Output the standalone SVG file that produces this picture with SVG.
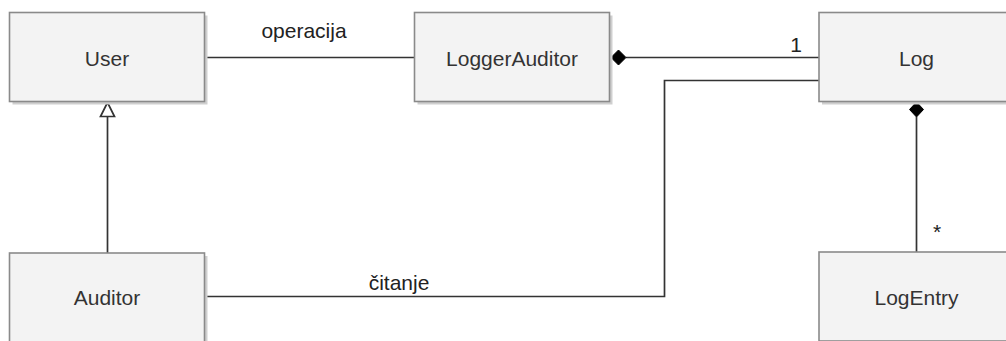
<svg xmlns="http://www.w3.org/2000/svg" width="1006" height="341" viewBox="0 0 1006 341">
<style>
.shadow{fill:#cfcfcf;stroke:none}
.box{fill:#f3f3f3;stroke:#8a8a8a;stroke-width:1.6}
.lbl{font-family:"Liberation Sans",Arial,sans-serif;font-size:21px;fill:#333333;text-anchor:middle}
.elbl{font-family:"Liberation Sans",Arial,sans-serif;font-size:21px;fill:#222222}
.conn{fill:none;stroke:#333333;stroke-width:1.7}
</style>
<rect width="1006" height="341" fill="#ffffff"/>
<g id="connectors">
  <path class="conn" d="M205.5,57.5 H414"/>
  <path class="conn" d="M626,57.5 H819"/>
  <path d="M611,57.5 L618.5,50 L626,57.5 L618.5,65 Z" fill="#000000" stroke="#000000" stroke-width="1"/>
  <path class="conn" d="M205.5,296.5 H664.5 V80.5 H819"/>
  <path class="conn" d="M916.5,117 V252"/>
  <path d="M916.5,102 L923.5,109.5 L916.5,117 L909.5,109.5 Z" fill="#000000" stroke="#000000" stroke-width="1"/>
  <path class="conn" d="M107.5,253 V116.5"/>
  <path d="M107.5,102.5 L114.5,116.5 L100.5,116.5 Z" fill="#ffffff" stroke="#333333" stroke-width="1.7"/>
  <text class="elbl" x="304" y="37.5" text-anchor="middle">operacija</text>
  <text class="elbl" x="802" y="51.5" text-anchor="end">1</text>
  <text class="elbl" x="399" y="289.5" text-anchor="middle">čitanje</text>
  <text class="elbl" x="933" y="239">*</text>
</g>
<g id="node-user">
  <rect class="shadow" x="12.5" y="15.5" width="195" height="89"/>
  <rect class="box" x="9.5" y="12.5" width="195" height="89"/>
  <text class="lbl" x="107" y="65.5">User</text>
</g>
<g id="node-loggerauditor">
  <rect class="shadow" x="417.5" y="15.5" width="195" height="89"/>
  <rect class="box" x="414.5" y="12.5" width="195" height="89"/>
  <text class="lbl" x="512" y="65.5">LoggerAuditor</text>
</g>
<g id="node-log">
  <rect class="shadow" x="822" y="15.5" width="195" height="89"/>
  <rect class="box" x="819" y="12.5" width="195" height="89"/>
  <text class="lbl" x="916.5" y="65.5">Log</text>
</g>
<g id="node-auditor">
  <rect class="shadow" x="12.5" y="256" width="195" height="89"/>
  <rect class="box" x="9.5" y="253" width="195" height="89"/>
  <text class="lbl" x="107" y="305">Auditor</text>
</g>
<g id="node-logentry">
  <rect class="shadow" x="822" y="255" width="195" height="89"/>
  <rect class="box" x="819" y="252" width="195" height="89"/>
  <text class="lbl" x="916.5" y="305">LogEntry</text>
</g>
</svg>
